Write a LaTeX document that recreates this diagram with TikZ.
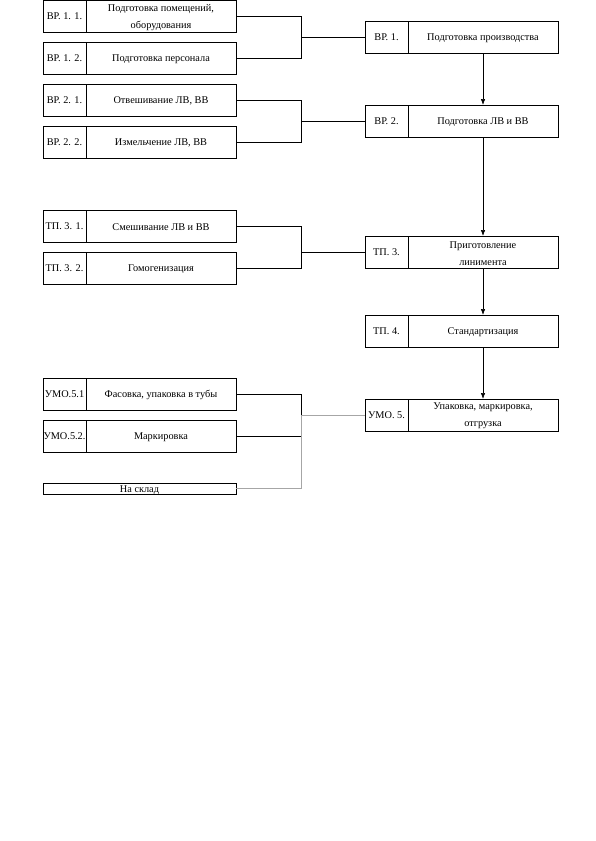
\documentclass[tikz,border=0pt]{standalone}
\usepackage{fontspec}
\setmainfont{Liberation Serif}
\usetikzlibrary{arrows.meta}
\begin{document}
\begin{tikzpicture}[x=1pt,y=1pt,
  every node/.style={inner sep=0pt,outer sep=0pt,font=\fontsize{10.3}{17}\selectfont},
  lab/.style={draw,line width=0.6pt,minimum width=43pt,minimum height=32pt,anchor=north west,align=center},
  txt/.style={draw,line width=0.6pt,minimum width=150pt,minimum height=32pt,anchor=north west},
  tt/.style={label={[align=center,yshift=-1.2pt]center:{#1}}},
  conn/.style={line width=0.6pt},
  gconn/.style={line width=0.6pt,draw=gray!70},
  arr/.style={line width=0.6pt,-{Latex[length=6pt,width=4.5pt]}}]
\useasboundingbox (0,0) rectangle (595,-841);
% left boxes
\node[lab] (l11) at (43,0) {ВР. 1. 1.};
\node[txt,tt={Подготовка помещений,\\оборудования}] (t11) at (86,0) {};
\node[lab] (l12) at (43,-42) {ВР. 1. 2.};
\node[txt,tt={Подготовка персонала}] (t12) at (86,-42) {};
\node[lab] (l21) at (43,-84) {ВР. 2. 1.};
\node[txt,tt={Отвешивание ЛВ, ВВ}] (t21) at (86,-84) {};
\node[lab] (l22) at (43,-126) {ВР. 2. 2.};
\node[txt,tt={Измельчение ЛВ, ВВ}] (t22) at (86,-126) {};
\node[lab] (l31) at (43,-210) {ТП. 3. 1.};
\node[txt,tt={Смешивание ЛВ и ВВ}] (t31) at (86,-210) {};
\node[lab] (l32) at (43,-252) {ТП. 3. 2.};
\node[txt,tt={Гомогенизация}] (t32) at (86,-252) {};
\node[lab] (l51) at (43,-378) {УМО.5.1};
\node[txt,tt={Фасовка, упаковка в тубы}] (t51) at (86,-378) {};
\node[lab] (l52) at (43,-420) {УМО.5.2.};
\node[txt,tt={Маркировка}] (t52) at (86,-420) {};
\node[draw,line width=0.6pt,minimum width=193pt,minimum height=11pt,anchor=north west,
  label={[yshift=-1.5pt]center:На склад}] (sk) at (43,-483) {};
% right boxes
\node[lab] (r1l) at (365,-21) {ВР. 1.};
\node[txt,tt={Подготовка производства}] (r1t) at (408,-21) {};
\node[lab] (r2l) at (365,-105) {ВР. 2.};
\node[txt,tt={Подготовка ЛВ и ВВ}] (r2t) at (408,-105) {};
\node[lab] (r3l) at (365,-236) {ТП. 3.};
\node[txt,tt={Приготовление\\линимента}] (r3t) at (408,-236) {};
\node[lab] (r4l) at (365,-315) {ТП. 4.};
\node[txt,tt={Стандартизация}] (r4t) at (408,-315) {};
\node[lab] (r5l) at (365,-399) {УМО. 5.};
\node[txt,tt={Упаковка, маркировка,\\отгрузка}] (r5t) at (408,-399) {};
% junctions
\coordinate (j1) at (301,-37);
\coordinate (j2) at (301,-121);
\coordinate (j3) at (301,-252);
\coordinate (j5) at (301,-415);
\coordinate (j5b) at (301,-436);
\draw[conn] (t11.east) -| (j1);
\draw[conn] (t12.east) -| (j1);
\draw[conn] (j1) -- (r1l.west);
\draw[conn] (t21.east) -| (j2);
\draw[conn] (t22.east) -| (j2);
\draw[conn] (j2) -- (r2l.west);
\draw[conn] (t31.east) -| (j3);
\draw[conn] (t32.east) -| (j3);
\draw[conn] (j3) -- (r3l.west);
\draw[conn] (t51.east) -| (j5);
\draw[conn] (t52.east) -- (j5b);
\draw[gconn] (j5b) -- (j5);
\draw[gconn] (sk.east) -| (j5b);
\draw[gconn] (j5) -- (r5l.west);
% arrows
\draw[arr] (r1t.south) -- (r2t.north);
\draw[arr] (r2t.south) -- (r3t.north);
\draw[arr] (r3t.south) -- (r4t.north);
\draw[arr] (r4t.south) -- (r5t.north);
\end{tikzpicture}
\end{document}
